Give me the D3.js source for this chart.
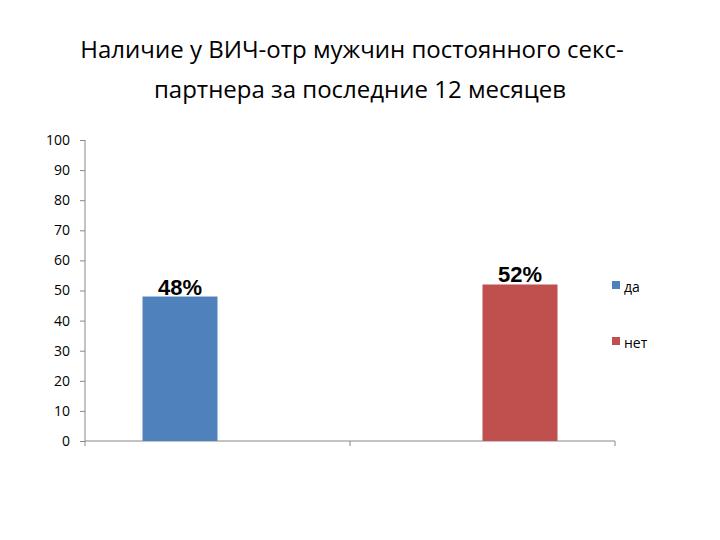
<!DOCTYPE html><html><head><meta charset="utf-8"><script src="https://cdn.jsdelivr.net/npm/d3@7"></script>
<style>body{margin:0;background:#fff}</style></head><body><svg id="c" width="720" height="540"></svg>
<script>
const categories=["1","2"];
const series=["да","нет"];
const values=[[48,0],[0,52]];
const labels=["48%","52%"];
const colors=["#4F81BD","#C0504D"];
const yTicks=[0,10,20,30,40,50,60,70,80,90,100];
const svg=d3.select("#c");
svg.append("text").attr("x",352).attr("y",58).attr("text-anchor","middle").attr("font-family","Open Sans").attr("font-size",24).text("Наличие у ВИЧ-отр мужчин постоянного секс-");
svg.append("text").attr("x",360).attr("y",98).attr("text-anchor","middle").attr("font-family","Open Sans").attr("font-size",24).text("партнера за последние 12 месяцев");
const x=d3.scaleBand().domain(categories).range([85,615]);
const xi=d3.scaleBand().domain(series).range([0,150]);
const y=d3.scaleLinear().domain([0,100]).range([441,140]);
const ya=svg.append("g").attr("transform","translate(85,0)").call(d3.axisLeft(y).tickValues(yTicks).tickSize(5).tickPadding(10));
ya.select(".domain").attr("stroke","#888").attr("d","M0,140V441");
ya.selectAll(".tick line").attr("stroke","#888");
ya.selectAll("text").attr("font-family","Open Sans").attr("font-size",14).attr("fill","#000");
const xa=svg.append("g").attr("transform","translate(0,441)").call(d3.axisBottom(x).tickSize(5).tickFormat(""));
xa.select(".domain").attr("stroke","#888").attr("d","M85,0H615");
xa.selectAll(".tick").remove();
[85,350,615].forEach(t=>svg.append("line").attr("x1",t).attr("x2",t).attr("y1",441).attr("y2",446).attr("stroke","#888"));
categories.forEach((c,ci)=>{
  const g0=x(c)+(x.bandwidth()-150)/2;
  series.forEach((s,si)=>{
    const v=values[ci][si]; if(!v) return;
    const bx=g0+xi(s);
    svg.append("rect").attr("x",bx).attr("y",y(v)).attr("width",xi.bandwidth()).attr("height",441-y(v)).attr("fill",colors[si]);
    svg.append("text").attr("x",bx+xi.bandwidth()/2).attr("y",y(v)-2).attr("text-anchor","middle").attr("font-family","Liberation Sans").attr("font-weight","bold").attr("font-size",22).text(labels[ci]);
  });
});
series.forEach((s,i)=>{
  const ly=[292,348][i];
  svg.append("rect").attr("x",612).attr("y",ly-11).attr("width",8).attr("height",8).attr("fill",colors[i]);
  svg.append("text").attr("x",624).attr("y",ly).attr("font-family","Open Sans").attr("font-size",14).text(s);
});
</script></body></html>
